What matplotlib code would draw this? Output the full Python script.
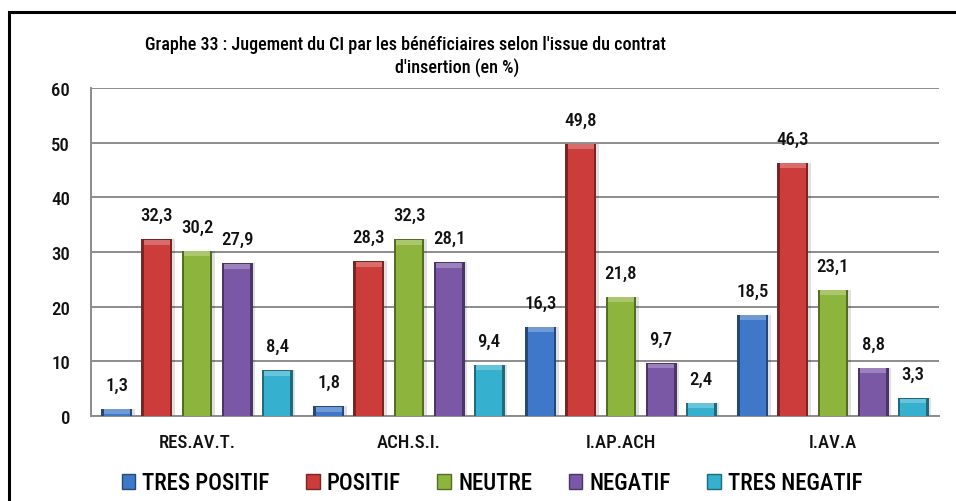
import matplotlib.pyplot as plt
import numpy as np
from matplotlib.patches import Rectangle, Patch
from matplotlib.colors import to_rgb

categories = ["RES.AV.T.", "ACH.S.I.", "I.AP.ACH", "I.AV.A"]
series = ["TRES POSITIF", "POSITIF", "NEUTRE", "NEGATIF", "TRES NEGATIF"]
tres_positif = [1.3, 1.8, 16.3, 18.5]
positif = [32.3, 28.3, 49.8, 46.3]
neutre = [30.2, 32.3, 21.8, 23.1]
negatif = [27.9, 28.1, 9.7, 8.8]
tres_negatif = [8.4, 9.4, 2.4, 3.3]
values = [tres_positif, positif, neutre, negatif, tres_negatif]
colors = ["#3f78c8", "#cc3c3a", "#8db43c", "#7b58a6", "#35b0cf"]

plt.rcParams['font.family'] = ['Roboto Condensed', 'DejaVu Sans']
plt.rcParams['font.weight'] = 500


def shade(c, f):
    r, g, b = to_rgb(c)
    if f < 1:
        return (r * f, g * f, b * f)
    return (r + (1 - r) * (f - 1), g + (1 - g) * (f - 1), b + (1 - b) * (f - 1))


fig = plt.figure(figsize=(9.56, 5.02), dpi=100)
ax = fig.add_axes([0.0952, 0.1693, 0.887, 0.6534])

x = np.arange(len(categories))
pitch = 0.189
width = 0.146
for i, (name, vals, c) in enumerate(zip(series, values, colors)):
    pos = x + (i - 2) * pitch
    vals = np.array(vals)
    # soft shadow, outer edge, body and lighter top cap
    ax.bar(pos + 0.012, vals, width, color="#000000", alpha=0.12, zorder=2)
    ax.bar(pos, vals, width, color=shade(c, 0.6), zorder=3)
    ax.bar(pos, vals - 0.25, width * 0.82, color=c, zorder=4)
    cap = np.minimum(0.9, vals * 0.6)
    ax.bar(pos, cap, width * 0.82, bottom=vals - cap - 0.1,
           color=shade(c, 1.25), zorder=5)
    for p, v in zip(pos, vals):
        ax.annotate(f"{v:.1f}".replace(".", ","), (p, v), xytext=(0, 11),
                    textcoords="offset points", ha="center", va="bottom",
                    fontsize=13.5, color="#111111")

ax.set_xlim(-0.5, len(categories) - 0.5)
ax.set_ylim(0, 60)
ax.set_yticks(range(0, 61, 10))
ax.set_xticks(x)
ax.set_xticklabels(categories)
ax.tick_params(axis="both", length=0, labelsize=13.5, colors="#111111")
ax.tick_params(axis="y", pad=15)
ax.tick_params(axis="x", pad=12)
ax.grid(axis="y", color="#8c8c8c", linewidth=1.4, zorder=0)
ax.set_axisbelow(True)
for s in ["top", "right"]:
    ax.spines[s].set_visible(False)
for s in ["left", "bottom"]:
    ax.spines[s].set_color("#8c8c8c")
    ax.spines[s].set_linewidth(1.4)

fig.text(0.424, 1 - 45 / 502, "Graphe 33 : Jugement du CI par les bénéficiaires selon l'issue du contrat",
         ha="center", va="center", fontsize=13)
fig.text(0.478, 1 - 68 / 502, "d'insertion (en %)",
         ha="center", va="center", fontsize=13)

handles = [Patch(facecolor=c, edgecolor=shade(c, 0.6), linewidth=1) for c in colors]
fig.legend(handles, series, loc="center", bbox_to_anchor=(492 / 956, 1 - 484 / 502),
           ncol=5, frameon=False, fontsize=16.5, handlelength=0.6, handleheight=0.6,
           handletextpad=0.3, columnspacing=1.6)

fig.add_artist(Rectangle((9 / 956, -0.1), 1.2, 1.1 - 13 / 502, transform=fig.transFigure,
                         fill=False, edgecolor="black", linewidth=2.2))

fig.savefig("out.png", dpi=100)
